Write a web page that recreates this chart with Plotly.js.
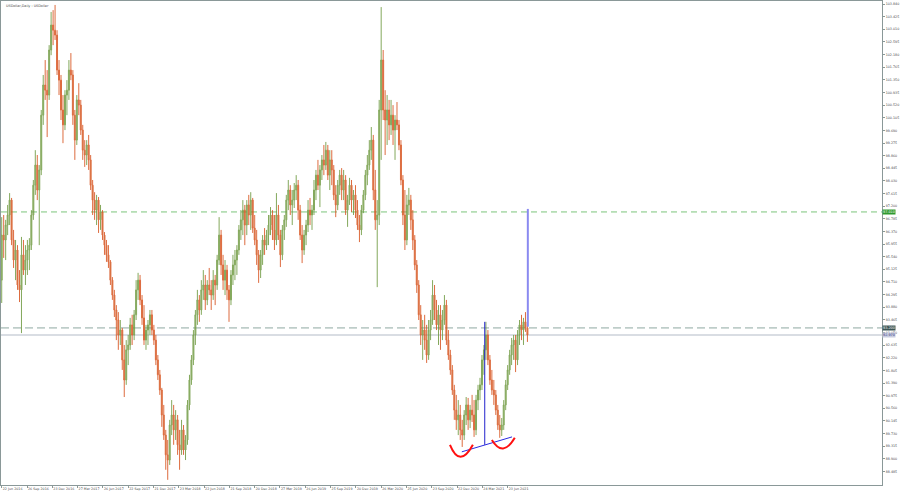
<!DOCTYPE html>
<html><head><meta charset="utf-8">
<script src="https://cdn.plot.ly/plotly-3.0.1.min.js"></script>
<style>html,body{margin:0;padding:0;background:#fff;}#chart{width:900px;height:493px;}</style>
</head><body><div id="chart"></div>
<script>
// Weekly candles (each = 5 daily bars)
const open = [
94.77,96.25,96.09,96.58,96.91,
97.40,96.09,95.43,95.76,94.61,
94.45,95.60,95.10,95.43,95.76,
95.92,96.91,97.89,98.55,97.73,
98.39,100.19,101.18,101.01,100.85,
102.33,103.15,102.98,102.82,101.67,
101.34,100.36,99.87,100.85,101.01,
101.67,101.51,100.19,99.37,100.69,
100.52,99.70,99.04,98.88,99.21,
98.72,97.89,97.40,97.07,97.40,
96.75,97.01,96.25,95.92,95.60,
95.37,94.77,94.28,93.79,93.46,
92.97,93.13,92.15,91.49,92.48,
92.64,93.30,92.97,93.63,94.45,
94.77,94.12,93.53,92.80,93.13,
93.30,93.63,93.13,92.80,92.15,
91.66,91.16,90.34,89.68,89.03,
88.86,90.01,90.34,89.85,90.18,
89.36,89.19,89.85,89.19,89.52,
90.67,91.49,92.15,92.97,93.63,
94.12,93.79,94.45,94.61,94.12,
94.61,94.45,94.28,94.77,94.61,
95.43,96.25,95.27,94.77,95.10,
94.45,94.12,94.94,95.27,95.43,
95.76,96.42,96.75,97.07,96.58,
97.24,96.91,97.40,96.48,96.09,
95.60,95.10,95.60,96.09,95.92,
96.25,96.58,96.91,96.42,96.09,
96.91,96.25,95.60,96.42,96.75,
97.40,97.73,97.24,97.40,97.73,
97.89,97.07,96.25,95.76,96.25,
96.58,97.07,96.91,97.07,97.73,
98.22,97.89,98.39,98.72,98.55,
99.04,98.22,98.72,98.39,97.57,
97.24,97.89,98.22,97.73,98.06,
97.07,97.40,97.89,97.40,97.57,
97.07,96.58,96.42,97.07,97.57,
98.22,98.55,99.04,99.37,97.73,
96.75,96.91,100.36,102.00,100.36,
100.03,100.36,99.87,100.19,99.70,
100.03,99.87,99.21,98.06,96.91,
96.09,97.24,97.40,96.75,96.09,
95.27,94.61,93.63,92.97,93.13,
92.80,92.31,93.13,93.46,94.28,
93.79,93.30,93.63,93.13,93.46,
93.95,92.80,92.31,91.82,91.16,
90.50,90.18,90.34,89.85,89.68,
90.34,90.67,90.18,90.50,90.34,
89.85,90.83,91.16,91.33,92.15,
92.48,92.97,92.15,91.49,91.16,
91.00,90.50,90.01,89.85,90.01,
90.67,91.33,91.82,92.31,92.64,
92.80,92.15,92.97,93.30,93.13,
93.40,93.20];
const high = [
96.84,96.91,96.75,97.24,97.63,
97.47,96.42,96.09,95.92,95.10,
96.19,96.09,95.92,96.09,96.15,
97.07,98.06,99.04,98.88,98.55,
100.36,101.51,102.00,101.67,102.49,
103.58,103.64,103.81,102.98,102.00,
101.51,100.85,101.01,101.34,102.00,
102.23,101.67,100.36,100.85,101.24,
100.69,99.87,99.37,99.37,99.54,
98.88,98.06,97.66,97.57,97.50,
97.24,97.07,96.35,96.09,95.92,
95.43,94.87,94.45,93.95,93.72,
93.46,93.20,92.64,92.80,92.97,
93.53,93.63,93.79,94.77,95.01,
94.94,94.28,93.95,93.30,93.46,
93.79,93.79,93.30,92.97,92.31,
91.82,91.23,90.67,89.85,89.52,
90.18,90.83,90.67,90.50,90.34,
89.85,90.18,90.01,89.68,90.83,
91.66,92.31,93.13,93.79,94.45,
94.28,94.77,95.10,94.94,94.77,
95.17,94.77,95.10,94.94,95.60,
96.84,96.42,95.60,95.43,95.27,
94.61,95.10,95.60,95.76,95.92,
96.58,97.07,97.40,97.24,97.40,
97.57,97.66,97.47,96.91,96.42,
95.76,95.76,96.25,96.48,96.42,
96.91,97.17,97.07,96.91,97.63,
97.24,96.42,96.58,96.91,97.57,
98.06,97.89,97.73,97.96,98.22,
98.06,97.24,96.58,96.42,96.75,
97.40,97.47,97.24,98.06,98.39,
98.72,98.55,98.88,99.21,99.31,
99.21,99.04,99.04,98.55,97.89,
98.06,98.39,98.45,98.39,98.22,
97.57,98.13,98.06,97.73,97.89,
97.40,96.91,97.24,97.73,98.39,
98.88,99.37,99.80,99.54,98.39,
97.40,100.69,103.74,102.33,101.01,
100.85,100.69,100.69,100.52,100.19,
100.62,100.03,99.37,98.22,97.73,
97.57,97.80,97.57,97.07,96.25,
95.43,94.77,93.95,93.46,93.63,
93.30,93.46,93.79,94.77,94.61,
94.12,93.95,93.95,93.79,94.28,
94.12,93.13,92.48,91.98,91.33,
91.00,90.83,90.67,90.18,90.50,
90.93,90.90,90.67,91.00,90.83,
91.00,91.33,91.56,92.31,92.64,
93.40,93.13,92.31,91.82,91.49,
91.16,90.67,90.34,90.24,90.83,
91.49,91.98,92.48,92.87,92.97,
92.97,93.13,93.46,93.63,93.53,
93.72,93.30];
const low = [
94.02,95.50,95.43,96.25,96.58,
95.92,95.17,94.77,94.45,94.05,
93.03,94.94,94.61,94.94,95.10,
95.76,96.75,97.57,97.40,95.92,
98.22,99.87,100.69,99.47,100.69,
102.16,102.49,102.66,101.51,100.85,
100.03,99.27,99.70,100.19,100.69,
101.34,99.87,98.72,99.21,100.19,
99.54,98.72,98.49,98.55,98.39,
97.73,96.91,96.75,96.58,96.32,
96.42,96.09,95.60,95.37,95.17,
94.61,94.12,93.56,92.80,92.48,
92.64,91.82,90.93,91.33,91.98,
92.48,92.64,92.80,93.46,94.12,
93.95,93.30,92.64,92.48,92.64,
92.97,92.97,92.64,91.98,91.49,
91.00,89.95,89.52,88.54,88.21,
88.70,89.68,89.36,89.52,89.03,
88.54,89.03,89.03,88.86,89.36,
90.50,91.33,91.98,92.64,93.30,
93.40,93.63,94.12,93.79,93.95,
94.28,93.79,94.12,93.95,94.45,
95.27,94.94,94.45,94.28,94.12,
93.40,93.95,94.61,94.77,94.94,
95.60,96.09,96.25,95.92,96.25,
96.58,96.42,96.32,95.92,95.27,
94.68,94.84,95.27,95.60,95.76,
95.92,96.25,96.09,95.76,95.92,
96.09,95.20,95.43,96.09,96.52,
97.07,96.91,96.58,97.14,97.40,
96.75,96.09,95.33,95.60,95.92,
96.35,96.58,96.42,96.91,97.40,
97.73,97.17,98.06,98.22,98.39,
98.06,97.73,97.89,97.40,96.84,
97.07,97.57,97.40,97.40,96.91,
96.52,97.24,97.01,96.91,96.81,
96.42,96.02,96.25,96.97,97.40,
97.89,98.39,98.72,97.40,96.42,
94.54,96.58,98.72,100.03,98.88,
99.21,99.37,99.54,99.21,98.72,
99.70,99.04,97.89,96.58,95.76,
95.92,96.91,96.42,95.76,95.10,
94.35,93.46,92.64,92.15,92.48,
92.05,92.15,92.80,93.30,93.46,
93.13,92.64,92.48,92.80,93.30,
92.64,92.15,91.66,91.00,90.18,
89.85,89.68,89.52,89.29,89.52,
90.01,89.85,89.91,90.11,89.62,
89.68,90.50,90.83,91.16,91.66,
92.15,91.98,91.33,91.00,90.67,
90.34,89.85,89.59,89.65,89.85,
90.50,91.16,91.66,91.98,92.15,
91.75,91.98,92.64,92.80,92.64,
93.07,92.74];
const close = [
96.25,96.09,96.58,96.91,97.40,
96.09,95.43,95.76,94.61,94.45,
95.60,95.10,95.43,95.76,95.92,
96.91,97.89,98.55,97.73,98.39,
100.19,101.18,101.01,100.85,102.33,
103.15,102.98,102.82,101.67,101.34,
100.36,99.87,100.85,101.01,101.67,
101.51,100.19,99.37,100.69,100.52,
99.70,99.04,98.88,99.21,98.72,
97.89,97.40,97.07,97.40,96.75,
97.01,96.25,95.92,95.60,95.37,
94.77,94.28,93.79,93.46,92.97,
93.13,92.15,91.49,92.48,92.64,
93.30,92.97,93.63,94.45,94.77,
94.12,93.53,92.80,93.13,93.30,
93.63,93.13,92.80,92.15,91.66,
91.16,90.34,89.68,89.03,88.86,
90.01,90.34,89.85,90.18,89.36,
89.19,89.85,89.19,89.52,90.67,
91.49,92.15,92.97,93.63,94.12,
93.79,94.45,94.61,94.12,94.61,
94.45,94.28,94.77,94.61,95.43,
96.25,95.27,94.77,95.10,94.45,
94.12,94.94,95.27,95.43,95.76,
96.42,96.75,97.07,96.58,97.24,
96.91,97.40,96.48,96.09,95.60,
95.10,95.60,96.09,95.92,96.25,
96.58,96.91,96.42,96.09,96.91,
96.25,95.60,96.42,96.75,97.40,
97.73,97.24,97.40,97.73,97.89,
97.07,96.25,95.76,96.25,96.58,
97.07,96.91,97.07,97.73,98.22,
97.89,98.39,98.72,98.55,99.04,
98.22,98.72,98.39,97.57,97.24,
97.89,98.22,97.73,98.06,97.07,
97.40,97.89,97.40,97.57,97.07,
96.58,96.42,97.07,97.57,98.22,
98.55,99.04,99.37,97.73,96.75,
96.91,100.36,102.00,100.36,100.03,
100.36,99.87,100.19,99.70,100.03,
99.87,99.21,98.06,96.91,96.09,
97.24,97.40,96.75,96.09,95.27,
94.61,93.63,92.97,93.13,92.80,
92.31,93.13,93.46,94.28,93.79,
93.30,93.63,93.13,93.46,93.95,
92.80,92.31,91.82,91.16,90.50,
90.18,90.34,89.85,89.68,90.34,
90.67,90.18,90.50,90.34,89.85,
90.83,91.16,91.33,92.15,92.48,
92.97,92.15,91.49,91.16,91.00,
90.50,90.01,89.85,90.01,90.67,
91.33,91.82,92.31,92.64,92.80,
92.15,92.97,93.30,93.13,93.40,
93.20,92.97];

// x-axis tick labels (every 64 daily bars)
const xTickBars = [0,64,128,192,256,320,384,448,512,576,640,704,768,832,896,960,1024,1088,1152,1216,1280];
const xTickText = ["22 Jun 2016","26 Sep 2016","23 Dec 2016","27 Mar 2017","26 Jun 2017","22 Sep 2017","21 Dec 2017","23 Mar 2018","22 Jun 2018","21 Sep 2018","20 Dec 2018","27 Mar 2019","26 Jun 2019","25 Sep 2019","20 Dec 2019","26 Mar 2020","25 Jun 2020","23 Sep 2020","22 Dec 2020","24 Mar 2021","23 Jun 2021"];
// y-axis tick labels
const yTickVals = [88.485,88.900,89.315,89.730,90.145,90.560,90.975,91.390,91.805,92.220,92.635,93.050,93.465,93.880,94.295,94.710,95.125,95.540,95.955,96.370,96.785,97.200,97.615,98.030,98.445,98.860,99.275,99.690,100.105,100.520,100.935,101.350,101.765,102.180,102.595,103.010,103.425,103.840];

// horizontal levels
const targetLevel = 97.010;
const necklineLevel = 93.200;
const lastPrice = 92.970;
// drawn objects: [bar, price]
const trendLine = [[1164, 89.13], [1291, 89.62]];
const headLine = [[1222, 89.36], [1222, 93.40]];
const projection = [[1331, 93.24], [1331, 97.11]];
const leftCup = [[1134, 89.36], [1159, 88.57], [1192, 89.36]];
const rightCup = [[1240, 89.52], [1268, 88.93], [1298, 89.59]];

const barsPerCandle = 5;
const xs = close.map((_, i) => i * barsPerCandle);

const FONT = 'DejaVu Sans';
const trace = {
  type: 'candlestick', x: xs, open: open, high: high, low: low, close: close,
  increasing: {line: {color: '#6f9a40', width: 1}, fillcolor: '#86a85a'},
  decreasing: {line: {color: '#d8531f', width: 1}, fillcolor: '#c8621c'},
  whiskerwidth: 0, hoverinfo: 'skip', opacity: 0.85
};

function seg(p, q, color, width, dash) {
  return {type: 'line', xref: 'x', yref: 'y', x0: p[0], y0: p[1], x1: q[0], y1: q[1],
          line: {color: color, width: width, dash: dash || 'solid'}};
}
function hline(y, color, width, dash) {
  return {type: 'line', xref: 'paper', yref: 'y', x0: 0, x1: 1, y0: y, y1: y,
          line: {color: color, width: width, dash: dash}, layer: 'below'};
}
function cup(c) {
  return {type: 'path', xref: 'x', yref: 'y',
          path: `M ${c[0][0]},${c[0][1]} Q ${c[1][0]},${c[1][1]} ${c[2][0]},${c[2][1]}`,
          line: {color: '#ff1010', width: 2}};
}
function priceTag(y, bg, fg) {
  return {xref: 'paper', yref: 'y', x: 1, y: y, xanchor: 'left', yanchor: 'middle',
          text: y.toFixed(3), showarrow: false, bgcolor: bg, borderpad: 0,
          font: {family: FONT, size: 3.4, color: fg}};
}

const layout = {
  width: 900, height: 493,
  margin: {l: 1, r: 18, t: 1, b: 8},
  paper_bgcolor: '#ffffff', plot_bgcolor: '#ffffff',
  showlegend: false, hovermode: false, dragmode: false,
  xaxis: {
    type: 'linear', range: [-1.8, 2227], rangeslider: {visible: false},
    tickmode: 'array', tickvals: xTickBars, ticktext: xTickText,
    tickangle: 0, automargin: false,
    ticks: 'outside', ticklen: 2, tickcolor: '#8a9898', tickwidth: 1,
    ticklabelposition: 'outside right',
    showgrid: false, zeroline: false, showline: true, linecolor: '#8a9898', linewidth: 1, mirror: true,
    tickfont: {family: FONT, size: 3.3, color: '#4a4a4a'}
  },
  yaxis: {
    side: 'right', range: [88.04, 103.94], automargin: false,
    tickmode: 'array', tickvals: yTickVals, ticktext: yTickVals.map(v => v.toFixed(3)),
    ticks: 'outside', ticklen: 2, tickcolor: '#8a9898', tickwidth: 1,
    showgrid: false, zeroline: false, showline: true, linecolor: '#8a9898', linewidth: 1, mirror: true,
    tickfont: {family: FONT, size: 3.3, color: '#4a4a4a'}
  },
  shapes: [
    hline(lastPrice, '#d9dde3', 2, 'solid'),
    hline(targetLevel, '#7cc47c', 1, '6px,4px'),
    hline(necklineLevel, '#8fa8a2', 1, '8px,4px'),
    seg(trendLine[0], trendLine[1], '#2a2ae0', 1),
    seg(headLine[0], headLine[1], '#2222cc', 1),
    seg(projection[0], projection[1], '#8a8af0', 2),
    cup(leftCup), cup(rightCup)
  ],
  annotations: [
    {xref: 'paper', yref: 'paper', x: 0.003, y: 0.997, xanchor: 'left', yanchor: 'top',
     text: 'USDollar,Daily : USDollar', showarrow: false,
     font: {family: FONT, size: 3.4, color: '#4a4a4a'}},
    priceTag(targetLevel, '#2f9a2f', '#ffffff'),
    priceTag(necklineLevel, '#3d5656', '#ffffff'),
    priceTag(lastPrice, '#c9cde0', '#33337a')
  ]
};

Plotly.newPlot('chart', [trace], layout, {staticPlot: true, displayModeBar: false});
</script>
</body></html>
